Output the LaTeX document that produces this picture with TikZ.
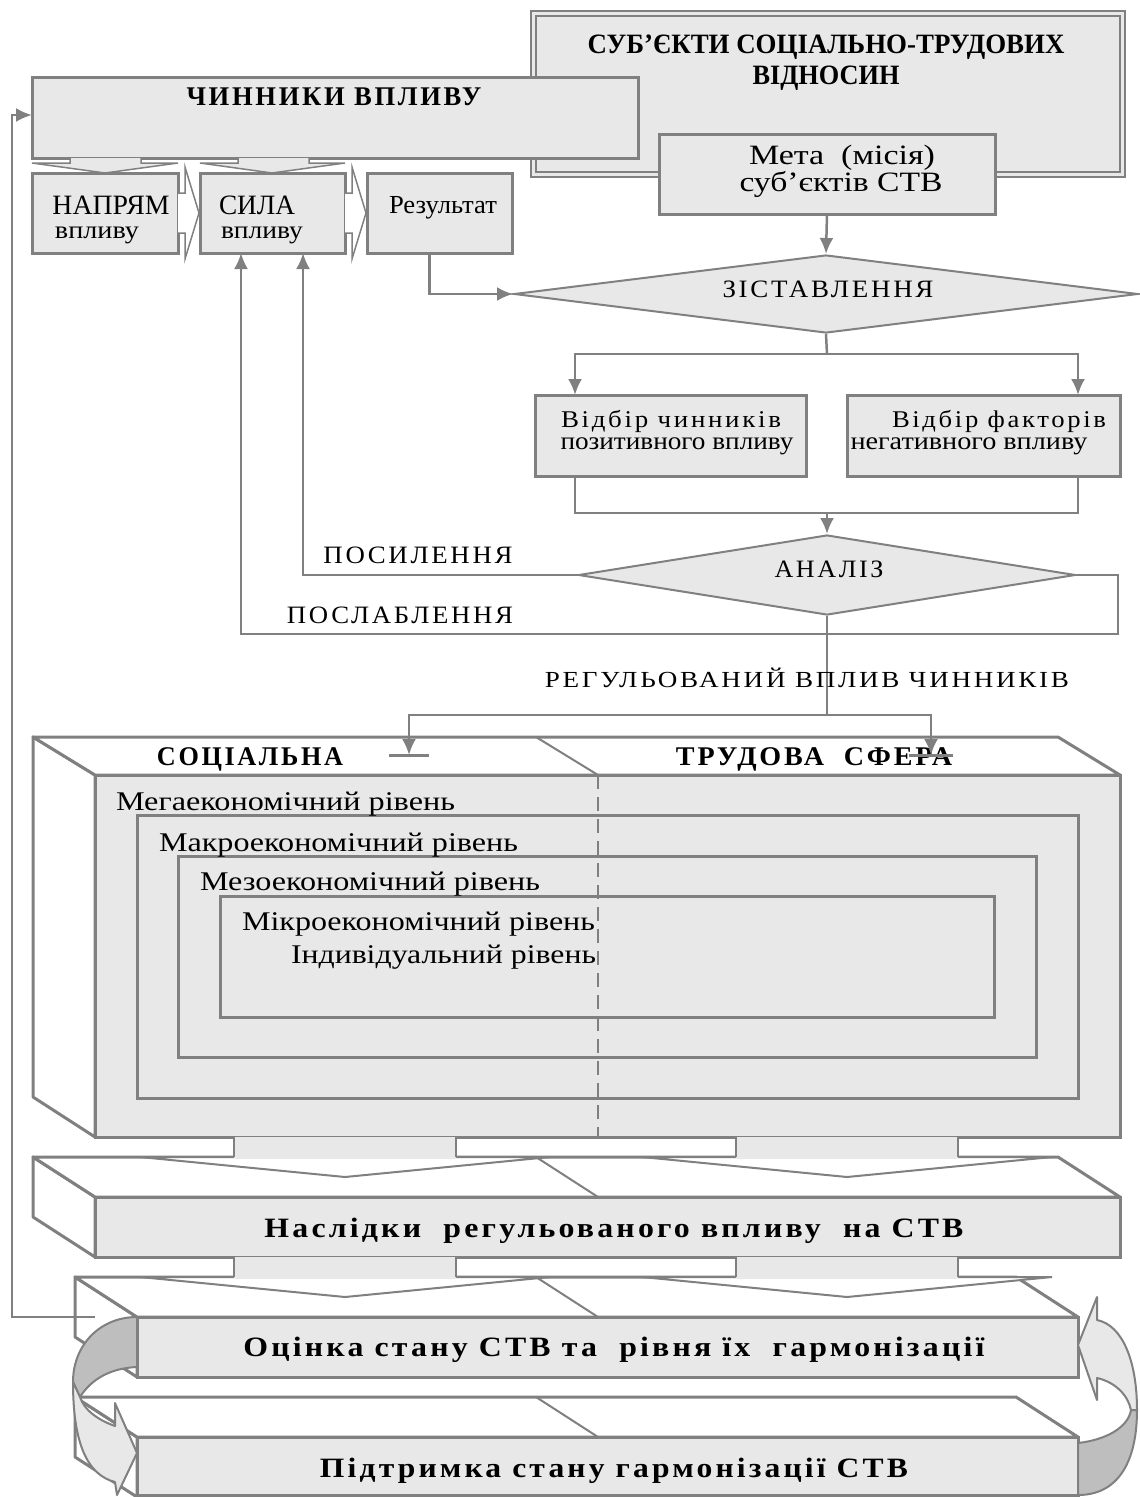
\documentclass[tikz,border=0pt]{standalone}
\usepackage{fontspec}
\setmainfont{Liberation Serif}
\usepackage{graphicx}
\usetikzlibrary{shapes.geometric,arrows.meta,calc}
\definecolor{lg}{HTML}{808080}
\definecolor{bg}{HTML}{E8E8E8}
\definecolor{dk}{HTML}{BEBEBE}
\newcommand\fsz[1]{\fontsize{#1}{#1}\selectfont}
\newcommand\tw[2]{\resizebox{#1pt}{\height}{#2}}
\newcommand\lsp{\addfontfeature{LetterSpace=10}}
\newcommand\bx[6][]{\node[box,anchor=north west,minimum width=#5,minimum height=#6,#1] (#2) at (#3,#4) {};}
\newcommand\barrow[3]{%
  \draw[thin,fill=white,line join=miter] (#1-111,#3) -- (#1-205,#3) -- (#1,#3+20) -- (#1+205,#3) -- (#1+111,#3);
  \fill[bg] (#1-111,#2) rectangle (#1+111,#3+1.5);
  \draw[thin] (#1-111,#2) -- (#1-111,#3) (#1+111,#2) -- (#1+111,#3);
}
\begin{document}
\begin{tikzpicture}[x=1pt,y=-1pt,
  box/.style={draw=lg,line width=3pt,fill=bg,inner sep=0pt,outer sep=0pt,rectangle},
  con/.style={draw=lg,line width=2.5pt},
  arr/.style={con,-{Latex[length=16pt,width=14pt]}},
  txt/.style={inner sep=0pt,outer sep=0pt,anchor=base},
  txl/.style={inner sep=0pt,outer sep=0pt,anchor=base west},
  face/.style={draw=lg,line width=3pt,fill=white,line join=round},
  thin/.style={draw=lg,line width=2pt},
]
\useasboundingbox (0,0) rectangle (1140,1497);

% subjects box
\bx[line width=2pt]{subj}{531}{11}{594}{166}
\draw[lg,line width=1.5pt] ($(subj.north west)+(5,5)$) rectangle ($(subj.south east)+(-5,-5)$);
\node[txt,font=\fsz{28}\bfseries] at (826,53) {\tw{477}{СУБ’ЄКТИ СОЦІАЛЬНО-ТРУДОВИХ}};
\node[txt,font=\fsz{28}\bfseries] at (826,84) {\tw{147}{ВІДНОСИН}};

% factors
\bx{chyn}{32}{77}{606}{81}
\node[txt,font=\fsz{27}\bfseries\lsp] at (334,105) {\tw{295}{ЧИННИКИ ВПЛИВУ}};

% goal
\bx{meta}{659}{134}{336}{80}
\node[txt,font=\fsz{28}] at (842,164) {\tw{186}{Мета\ \ (місія)}};
\node[txt,font=\fsz{28}] at (841,191) {\tw{203}{суб’єктів СТВ}};

% three small boxes
\bx{napr}{32}{173}{146}{80}
\bx{sila}{200}{173}{145}{80}
\bx{res}{367}{173}{145}{80}
\node[txt,font=\fsz{28}] at (111,214) {\tw{117}{НАПРЯМ}};
\node[txt,font=\fsz{25}] at (97,238) {\tw{84}{впливу}};
\node[txt,font=\fsz{28}] at (257,214) {\tw{76}{СИЛА}};
\node[txt,font=\fsz{25}] at (262,238) {\tw{82}{впливу}};
\node[txt,font=\fsz{26}] at (443,213) {\tw{108}{Результат}};

% small block arrows
\draw[lg,line width=1.5pt,fill=bg] (70,158) -- (70,163) -- (32,163) -- (105,173) -- (178,163) -- (141,163) -- (141,158);
\draw[lg,line width=1.5pt,fill=bg] (238,158) -- (238,163) -- (200,163) -- (272,173) -- (345,163) -- (309,163) -- (309,158);
\draw[lg,line width=1.5pt,fill=white] (178,193) -- (185,193) -- (185,167) -- (199,213) -- (185,259) -- (185,233) -- (178,233);
\draw[lg,line width=1.5pt,fill=white] (345,193) -- (352,193) -- (352,167) -- (366,213) -- (352,259) -- (352,233) -- (345,233);

% diamonds
\node[draw=lg,line width=2pt,fill=bg,diamond,minimum width=624,minimum height=78,inner sep=0pt] (zist) at (826,294) {};
\node[txt,font=\fsz{25}\lsp] at (828,297) {\tw{211}{ЗІСТАВЛЕННЯ}};
\node[draw=lg,line width=2pt,fill=bg,diamond,minimum width=497,minimum height=80,inner sep=0pt] (anal) at (827,575) {};
\node[txt,font=\fsz{25}\lsp] at (829,577) {\tw{109}{АНАЛІЗ}};

\draw[arr] ([xshift=-10pt]res.south) |- (zist.west);
\draw[arr] (meta.south) -- (zist.north);

% selection boxes
\bx{vpos}{535}{395}{271}{81}
\bx{vneg}{847}{395}{273}{81}
\node[txt,font=\fsz{24}\lsp] at (671,427) {\tw{220}{Відбір чинників}};
\node[txt,font=\fsz{25}] at (677,449) {\tw{233}{позитивного впливу}};
\node[txt,font=\fsz{24}\lsp] at (999,427) {\tw{214}{Відбір факторів}};
\node[txt,font=\fsz{25}] at (969,449) {\tw{237}{негативного впливу}};

\coordinate (sp) at (827,354);
\draw[con] (zist.south) -- (sp);
\draw[arr] (sp) -| ($(vpos.north west)+(40,0)$);
\draw[arr] (sp) -| ($(vneg.north east)+(-42,0)$);
\coordinate (mp) at (827,513);
\draw[con] ($(vpos.south west)+(40,0)$) |- (mp);
\draw[con] ($(vneg.south east)+(-42,0)$) |- (mp);
\draw[arr] (mp) -- (anal.north);

% strengthen / weaken
\draw[arr] (anal.west) -| ($(sila.south west)+(103,0)$);
\coordinate (r1) at (1118,575);
\coordinate (r2) at (1118,634);
\draw[arr] (anal.east) -- (r1) -- (r2) -| ($(sila.south west)+(41,0)$);
\node[txt,font=\fsz{25}\lsp] at (418,563) {\tw{189}{ПОСИЛЕННЯ}};
\node[txt,font=\fsz{25}\lsp] at (400,623) {\tw{226}{ПОСЛАБЛЕННЯ}};

% 3D sphere box
\draw[face] (33,737) -- (95,775) -- (95,1137) -- (33,1097) -- cycle;
\draw[face] (33,737) -- (1058,737) -- (1120,775) -- (95,775) -- cycle;
\bx{sphere}{95}{775}{1025}{362}
\draw[thin] (536,737) -- (598,775);
\bx{makro}{137}{815}{941}{283}
\bx{mezo}{178}{856}{858}{201}
\bx{mikro}{220}{896}{774}{121}
\draw[thin,dash pattern=on 14pt off 8pt] ($(sphere.north west)+(503,0)$) -- ($(sphere.south west)+(503,0)$);
\node[txt,font=\fsz{27}\bfseries\lsp] at (250,765) {\tw{186}{СОЦІАЛЬНА}};
\node[txt,font=\fsz{27}\bfseries\lsp] at (814,765) {\tw{276}{ТРУДОВА\ \ СФЕРА}};
\node[txl,font=\fsz{27}] at (116,810) {\tw{339}{Мегаекономічний рівень}};
\node[txl,font=\fsz{27}] at (159,851) {\tw{359}{Макроекономічний рівень}};
\node[txl,font=\fsz{27}] at (200,890) {\tw{340}{Мезоекономічний рівень}};
\node[txl,font=\fsz{27}] at (242,930) {\tw{353}{Мікроекономічний рівень}};
\node[txl,font=\fsz{27}] at (291,963) {\tw{305}{Індивідуальний рівень}};

% regulated influence
\coordinate (rg) at (827,715);
\coordinate (tl) at (409,755);
\coordinate (tr) at (931,755);
\draw[con] (anal.south) -- (rg);
\draw[arr] (rg) -| (tl);
\draw[arr] (rg) -| (tr);
\draw[lg,line width=3pt] ($(tl)+(-20,0)$) -- ($(tl)+(20,0)$);
\draw[lg,line width=3pt] ($(tr)+(-22,0)$) -- ($(tr)+(22,0)$);
\node[txt,font=\fsz{23}\lsp] at (807,687) {\tw{524}{РЕГУЛЬОВАНИЙ ВПЛИВ ЧИННИКІВ}};

% slab 1
\draw[face] (33,1157) -- (95,1197) -- (95,1257) -- (33,1217) -- cycle;
\draw[face] (33,1157) -- (1058,1157) -- (1120,1197) -- (95,1197) -- cycle;
\bx{nasl}{95}{1197}{1025}{60}
\draw[thin] (536,1157) -- (598,1197);
\barrow{345}{1137}{1157}
\barrow{847}{1137}{1157}
\node[txt,font=\fsz{28}\bfseries\lsp] at (614,1237) {\tw{699}{Наслідки\ \ регульованого впливу\ \ на СТВ}};

% slab 2
\draw[face] (75,1277) -- (137,1317) -- (137,1377) -- (75,1337) -- cycle;
\draw[face] (75,1277) -- (1016,1277) -- (1078,1317) -- (137,1317) -- cycle;
\bx{ocin}{137}{1317}{941}{60}
\draw[thin] (536,1277) -- (598,1317);
\barrow{345}{1257}{1277}
\barrow{847}{1257}{1277}
\node[txt,font=\fsz{28}\bfseries\lsp] at (614,1356) {\tw{741}{Оцінка стану СТВ та\ \ рівня їх\ \ гармонізації}};

% slab 3
\draw[face] (75,1397) -- (137,1437) -- (137,1497) -- (75,1457) -- cycle;
\draw[face] (75,1397) -- (1016,1397) -- (1078,1437) -- (137,1437) -- cycle;
\bx{pidt}{137}{1437}{941}{58}
\draw[thin] (536,1397) -- (598,1437);
\node[txt,font=\fsz{28}\bfseries\lsp] at (614,1477) {\tw{588}{Підтримка стану гармонізації СТВ}};

% feedback
\coordinate (fb) at (95,1317);
\coordinate (fbt) at (12,115);
\draw[arr] (fb) -| (fbt) -- (fbt -| chyn.west);

% curved arrows
\draw[thin,fill=dk,line join=round] (137,1317) .. controls (100,1317) and (73,1345) .. (73,1382) -- (80,1397) .. controls (92,1378) and (112,1368) .. (137,1367) -- cycle;
\draw[thin,fill=bg,line join=round] (73,1382) .. controls (73,1445) and (88,1475) .. (115,1482) -- (117,1495) -- (137,1453) -- (115,1403) -- (115,1426) .. controls (98,1420) and (84,1410) .. (80,1397) -- cycle;
\draw[thin,fill=dk,line join=round] (1078,1443) .. controls (1105,1440) and (1128,1428) .. (1131,1410) -- (1137,1410) .. controls (1137,1462) and (1118,1495) .. (1078,1495) -- cycle;
\draw[thin,fill=bg,line join=round] (1131,1410) .. controls (1128,1395) and (1115,1382) .. (1097,1378) -- (1097,1400) -- (1078,1345) -- (1097,1297) -- (1097,1320) .. controls (1122,1325) and (1137,1360) .. (1137,1410) -- cycle;
\end{tikzpicture}
\end{document}
